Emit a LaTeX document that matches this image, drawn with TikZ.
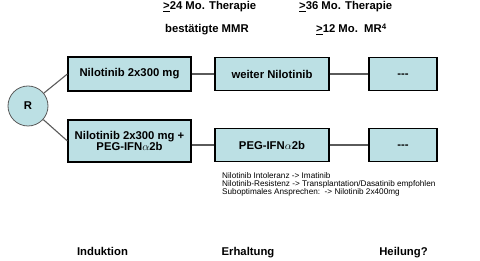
\documentclass[tikz,border=0pt]{standalone}
\usepackage{fontspec}
\setmainfont{Liberation Sans}
\usepackage{xcolor}
\usepackage{tikz}
\usetikzlibrary{positioning}
\definecolor{boxfill}{RGB}{188,224,228}
\definecolor{linegray}{RGB}{90,90,90}
\begin{document}
\begin{tikzpicture}[x=1pt, y=-1pt, font=\fontsize{11.3}{11}\selectfont\bfseries,
box/.style={draw=black, line width=1.2pt, fill=boxfill, align=center, inner sep=0pt},
arm/.style={box, minimum width=123pt}, mid/.style={box, minimum width=114pt, minimum height=33pt}, last/.style={box, minimum width=68pt, minimum height=33pt},
link/.style={draw=linegray, line width=1.1pt},
head/.style={anchor=base west, inner sep=0pt}, phase/.style={anchor=base, inner sep=0pt},
note/.style={anchor=base west, inner sep=0pt, align=left, font=\fontsize{8.2}{7.6}\selectfont}]
\useasboundingbox (0,0) rectangle (480,261);
\node[head] (t24) at (163,10) {\underline{>}24 Mo. Therapie};
\node[head] (mmr) at (165,33) {bestätigte MMR};
\node[head] (t36) at (299,10) {\underline{>}36 Mo. Therapie};
\node[head] (mr4) at (316,33) {\underline{>}12 Mo.\ \ MR\textsuperscript{4}};
\node[draw=linegray, line width=0.8pt, fill=boxfill, circle, minimum size=40pt, inner sep=0pt] (R) at (28,106) {R};
\node[arm, minimum height=34pt] (nilo) at (129.5,74) {Nilotinib 2x300 mg};
\node[arm, minimum height=42pt] (combo) at (129.5,141) {Nilotinib 2x300 mg +\\PEG-IFN$\alpha$2b};
\node[mid] (weiter) at (272,74) {weiter Nilotinib};
\node[mid] (peg) at (272,145) {PEG-IFN$\alpha$2b};
\node[last] (end1) at (403,74) {\vphantom{N}-{}-{}-};
\node[last] (end2) at (403,145) {\vphantom{N}-{}-{}-};
\draw[link] (R) -- (nilo.west); \draw[link] (R) -- (combo.west);
\draw[link] (nilo) -- (weiter); \draw[link] (weiter) -- (end1);
\draw[link] (combo.east |- peg.west) -- (peg.west); \draw[link] (peg) -- (end2);
\node[note] (rules) at (222,195) {Nilotinib Intoleranz -> Imatinib\\Nilotinib-Resistenz -> Transplantation/Dasatinib empfohlen\\Suboptimales Ansprechen:\ \ -> Nilotinib 2x400mg};
\node[phase] (ind) at (102.5,256) {Induktion};
\node[phase] (erh) at (248,256) {Erhaltung};
\node[phase] (heil) at (403.5,256) {Heilung?};
\end{tikzpicture}
\end{document}
